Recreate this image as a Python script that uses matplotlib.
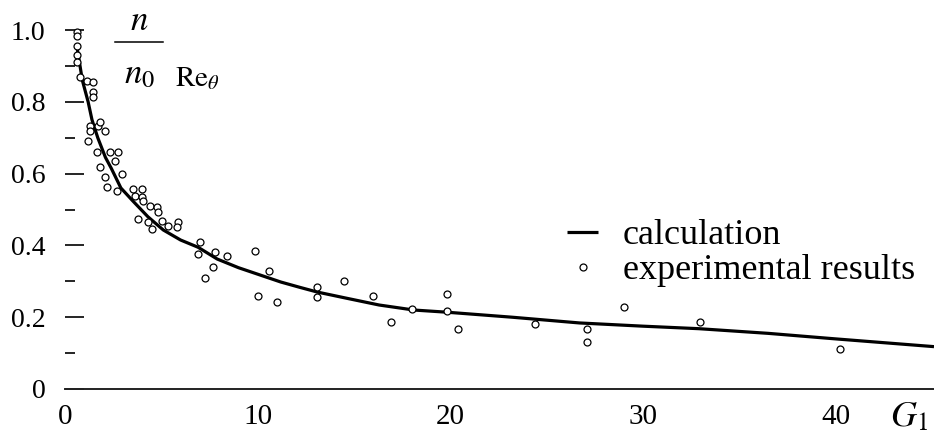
import matplotlib
matplotlib.use("Agg")
import matplotlib.pyplot as plt
from matplotlib.lines import Line2D
import numpy as np

plt.rcParams['font.family'] = ['Liberation Serif', 'DejaVu Serif']
plt.rcParams['mathtext.fontset'] = 'stix'

# calculated curve n/(n0 Re_theta) versus G1
calc_x = [0.6, 0.9, 1.2, 1.4, 1.7, 2.1, 2.4, 2.9, 3.5, 4.3, 5.1, 6.0, 6.9, 7.9,
          9.0, 10.1, 11.2, 12.2, 13.1, 14.6, 16.3, 18.1, 19.8, 23.2, 26.7,
          30.0, 32.9, 36.5, 39.9, 45.1]
calc_y = [0.96, 0.86, 0.80, 0.75, 0.70, 0.645, 0.615, 0.56, 0.525, 0.48, 0.443,
          0.415, 0.395, 0.362, 0.338, 0.318, 0.298, 0.283, 0.270, 0.253, 0.234,
          0.220, 0.214, 0.200, 0.184, 0.175, 0.168, 0.155, 0.140, 0.118]

# measured values
exp_x = [0.62, 0.62, 0.62, 0.62, 0.62, 0.78, 1.14, 1.45, 1.45, 1.45, 1.30, 1.71,
         1.82, 2.08, 1.30, 1.19, 1.66, 2.34, 2.75, 2.59, 1.82, 2.96, 2.08, 2.18,
         2.70, 3.53, 4.0, 3.63, 4.0, 4.41, 4.77, 4.05, 4.83, 5.03, 3.79, 4.3,
         4.51, 5.35, 5.86, 5.81, 7.0, 6.9, 7.78, 8.4, 7.68, 7.27, 9.86, 10.6,
         10.0, 11.0, 13.1, 13.1, 14.5, 16.0, 16.9, 18.0, 19.8, 19.8, 20.4,
         24.4, 27.1, 27.1, 29.0, 32.95, 40.2]
exp_y = [0.995, 0.983, 0.955, 0.93, 0.91, 0.87, 0.858, 0.855, 0.827, 0.813,
         0.733, 0.733, 0.744, 0.719, 0.719, 0.691, 0.66, 0.66, 0.66, 0.635,
         0.618, 0.599, 0.591, 0.563, 0.552, 0.557, 0.557, 0.538, 0.535, 0.51,
         0.507, 0.524, 0.493, 0.468, 0.474, 0.465, 0.446, 0.454, 0.465, 0.451,
         0.409, 0.376, 0.382, 0.37, 0.34, 0.31, 0.385, 0.329, 0.259, 0.242,
         0.284, 0.256, 0.30, 0.259, 0.187, 0.223, 0.265, 0.217, 0.167, 0.181,
         0.167, 0.131, 0.228, 0.187, 0.111]

x_ticks = [0, 10, 20, 30, 40]
y_ticks = [0.0, 0.2, 0.4, 0.6, 0.8, 1.0]
y_tick_labels = ['0', '0.2', '0.4', '0.6', '0.8', '1.0']
y_minor = [0.1, 0.3, 0.5, 0.7, 0.9]

fig = plt.figure(figsize=(9.34, 4.46), dpi=100)
ax = fig.add_axes([65 / 934, 57 / 446, 869 / 934, 387.7 / 446])
ax.set_xlim(0, 45.1)
ax.set_ylim(0, 1.08)

line, = ax.plot(calc_x, calc_y, color='black', lw=2.3, solid_capstyle='butt',
                zorder=2, clip_on=False)
pts, = ax.plot(exp_x, exp_y, ls='none', marker='o', ms=5, mfc='white',
               mec='black', mew=0.9, zorder=3, clip_on=False)

for side in ('left', 'top', 'right'):
    ax.spines[side].set_visible(False)
ax.spines['bottom'].set_linewidth(1.4)
ax.spines['bottom'].set_color('#222222')

ax.set_xticks(x_ticks)
ax.set_xticklabels([str(v) for v in x_ticks], fontsize=21)
ax.tick_params(axis='x', length=0, pad=11)

ax.set_yticks(y_ticks)
ax.set_yticklabels(y_tick_labels, fontsize=20)
ax.set_yticks(y_minor, minor=True)
ax.tick_params(axis='y', which='major', direction='in', length=14, width=1.2,
               pad=14)
ax.tick_params(axis='y', which='minor', direction='in', length=7, width=1.2)

# axis titles
ax.text(42.8, -0.035, r'$G_1$', fontsize=26, ha='left', va='top')
fig.text(139 / 934, 1 - 30 / 446, r'$n$', fontsize=25, ha='center',
         va='baseline')
fig.add_artist(Line2D([115 / 934, 163 / 934], [1 - 42 / 446, 1 - 42 / 446],
                      color='black', lw=1.1))
fig.text(124 / 934, 1 - 83 / 446, r'$n_0$', fontsize=25, ha='left',
         va='baseline')
fig.text(175 / 934, 1 - 86 / 446, r'$\mathrm{Re}_{\theta}$', fontsize=21,
         ha='left', va='baseline')

ax.legend([line, pts], ['calculation', 'experimental results'],
          loc='upper left', bbox_to_anchor=(549 / 934, 1 - 201 / 446),
          bbox_transform=fig.transFigure, frameon=False, fontsize=26,
          handlelength=0.87, handletextpad=0.67, labelspacing=0.05,
          borderpad=0, numpoints=1)

fig.savefig('out.png', dpi=100)
